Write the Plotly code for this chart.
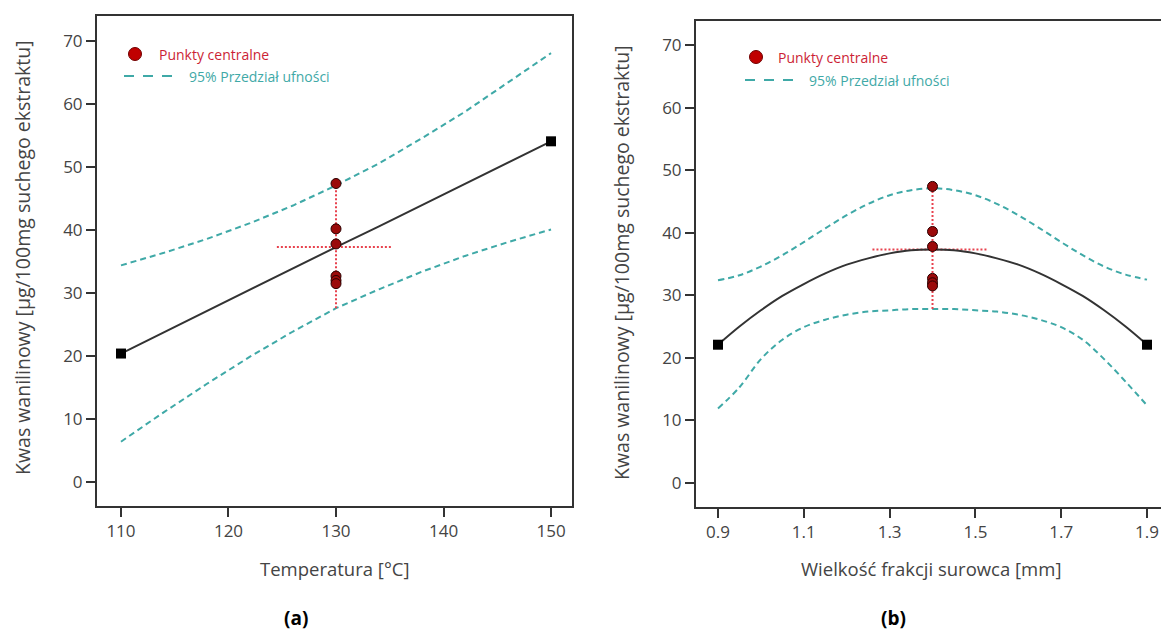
import plotly.graph_objects as go

W, H = 1161, 630

# ---------------- Panel (a): Temperatura ----------------
temp_x = [110, 114, 118, 122, 126, 130, 134, 138, 142, 146, 150]
temp_fit = [20.4, 23.8, 27.1, 30.5, 33.9, 37.3, 40.6, 44.0, 47.4, 50.7, 54.1]
temp_upper = [34.4, 36.4, 38.6, 41.1, 43.9, 47.1, 50.6, 54.6, 58.8, 63.4, 68.1]
temp_lower = [6.4, 11.1, 15.6, 19.9, 23.9, 27.6, 30.6, 33.4, 35.9, 38.1, 40.1]
temp_end_x = [110, 150]
temp_end_y = [20.4, 54.1]
temp_center = 130
temp_hbar_x = [124.5, 135.2]

# ---------------- Panel (b): Wielkość frakcji ----------------
size_x = [0.90, 0.95, 1.00, 1.05, 1.10, 1.15, 1.20, 1.25, 1.30, 1.35, 1.40,
          1.45, 1.50, 1.55, 1.60, 1.65, 1.70, 1.75, 1.80, 1.85, 1.90]
size_fit = [22.1, 25.0, 27.6, 29.9, 31.8, 33.5, 34.9, 35.9, 36.7, 37.2, 37.3,
            37.2, 36.7, 35.9, 34.9, 33.5, 31.8, 29.9, 27.6, 25.0, 22.1]
size_upper = [32.4, 33.2, 34.6, 36.4, 38.5, 40.7, 42.8, 44.6, 46.0, 46.8, 47.1,
              46.8, 46.0, 44.6, 42.8, 40.7, 38.5, 36.4, 34.6, 33.3, 32.5]
size_lower = [11.9, 15.3, 19.8, 22.9, 24.9, 26.1, 26.9, 27.4, 27.6, 27.8, 27.8,
              27.8, 27.6, 27.4, 26.9, 26.1, 24.9, 22.9, 19.8, 16.2, 12.4]
size_end_x = [0.9, 1.9]
size_end_y = [22.1, 22.1]
size_center = 1.4
size_hbar_x = [1.26, 1.53]

# Center points (same replicates in both panels)
center_y = [47.4, 40.2, 37.8, 32.7, 32.0, 31.5]
center_pred = 37.3

temp_ticks = [110, 120, 130, 140, 150]
size_ticks = [0.9, 1.1, 1.3, 1.5, 1.7, 1.9]
size_ticklabels = ["0.9", "1.1", "1.3", "1.5", "1.7", "1.9"]
y_ticks = [0, 10, 20, 30, 40, 50, 60, 70]

y_title = "Kwas wanilinowy [µg/100mg suchego ekstraktu]"
x_title_a = "Temperatura [°C]"
x_title_b = "Wielkość frakcji surowca [mm]"
legend_points = "Punkty centralne"
legend_ci = "95% Przedział ufności"

FIT = "#333333"
CI = "#3fa9a7"
RED = "#e8424e"
PT = "#9b0a0a"
FONT = "Open Sans"

fig = go.Figure()


def add_panel(xa, ya, xs, fit, up, lo, ex, ey, cx, hbar, spline):
    shape = "spline" if spline else "linear"
    # confidence band
    for yy in (up, lo):
        fig.add_trace(go.Scatter(x=xs, y=yy, mode="lines", xaxis=xa, yaxis=ya,
                                 line=dict(color=CI, width=2, dash="6px,4px", shape=shape)))
    # red dotted cross
    fig.add_trace(go.Scatter(x=[cx, cx], y=[lo[xs.index(cx)], max(center_y)], mode="lines",
                             xaxis=xa, yaxis=ya,
                             line=dict(color=RED, width=2, dash="2px,2px")))
    fig.add_trace(go.Scatter(x=hbar, y=[center_pred, center_pred], mode="lines",
                             xaxis=xa, yaxis=ya,
                             line=dict(color=RED, width=2, dash="2px,2px")))
    # fit
    fig.add_trace(go.Scatter(x=xs, y=fit, mode="lines", xaxis=xa, yaxis=ya,
                             line=dict(color=FIT, width=2, shape=shape)))
    fig.add_trace(go.Scatter(x=ex, y=ey, mode="markers", xaxis=xa, yaxis=ya,
                             marker=dict(symbol="square", size=10, color="#000000")))
    # center points
    fig.add_trace(go.Scatter(x=[cx] * len(center_y), y=center_y, mode="markers",
                             xaxis=xa, yaxis=ya,
                             marker=dict(symbol="circle", size=10, color=PT,
                                         line=dict(color="#2a0000", width=1))))


add_panel("x", "y", temp_x, temp_fit, temp_upper, temp_lower, temp_end_x, temp_end_y,
          temp_center, temp_hbar_x, False)
add_panel("x2", "y2", size_x, size_fit, size_upper, size_lower, size_end_x, size_end_y,
          size_center, size_hbar_x, True)


def px(x):
    return x / W


def py(y):
    return 1 - y / H


axis_common = dict(showgrid=False, zeroline=False, showline=True, linecolor="#333333",
                   linewidth=2, ticks="outside", ticklen=9, tickwidth=2,
                   tickcolor="#333333", tickfont=dict(family=FONT, size=17, color="#444444"))

fig.update_layout(
    width=W, height=H, margin=dict(l=0, r=0, t=0, b=0),
    paper_bgcolor="white", plot_bgcolor="white", showlegend=False,
    xaxis=dict(domain=[px(97), px(572)], range=[107.77, 151.95], anchor="y",
               tickvals=temp_ticks, mirror=True, **axis_common),
    yaxis=dict(domain=[py(506), py(16)], range=[-3.81, 74.0], anchor="x",
               tickvals=y_ticks, mirror=True, **axis_common),
    xaxis2=dict(domain=[px(696), 1.0], range=[0.8487, 1.9326], anchor="y2",
                tickvals=size_ticks, ticktext=size_ticklabels, mirror=True, **axis_common),
    yaxis2=dict(domain=[py(507), py(21)], range=[-3.84, 73.84], anchor="x2",
                tickvals=y_ticks, mirror=False, **axis_common),
)

ann = []
shapes = []
ytitle_font = dict(family=FONT, size=19.5, color="#444444")
xtitle_font = dict(family=FONT, size=18.5, color="#444444")


def label(x, y, text, font, angle=0, xanchor="center"):
    ann.append(dict(x=px(x), y=py(y), text=text, textangle=angle, showarrow=False,
                    xref="paper", yref="paper", xanchor=xanchor, yanchor="middle",
                    font=font))


# axis titles
label(22, 258, y_title, ytitle_font, angle=-90)
label(621, 262, y_title, ytitle_font, angle=-90)
label(335, 568, x_title_a, xtitle_font)
label(931, 568, x_title_b, xtitle_font)
# panel labels
label(296, 618, "<b>(a)</b>", dict(family=FONT, size=19, color="#000000"))
label(893, 618, "<b>(b)</b>", dict(family=FONT, size=19, color="#000000"))

# legends (drawn manually)
for (mx, my, t1x, dx0, dx1, dy, t2x) in [(135, 54, 157, 124, 174, 76, 187),
                                         (756, 57, 776, 745, 795, 80, 807)]:
    r = 6.5
    shapes.append(dict(type="circle", xref="paper", yref="paper",
                       x0=px(mx - r), x1=px(mx + r), y0=py(my + r), y1=py(my - r),
                       fillcolor="#c00000", line=dict(color="#700000", width=1)))
    shapes.append(dict(type="line", xref="paper", yref="paper",
                       x0=px(dx0), x1=px(dx1), y0=py(dy), y1=py(dy),
                       line=dict(color=CI, width=2, dash="10px,9px")))
    label(t1x, my, legend_points, dict(family=FONT, size=14, color="#cc1f36"), xanchor="left")
    label(t2x, dy, legend_ci, dict(family=FONT, size=14, color=CI), xanchor="left")

fig.update_layout(annotations=ann, shapes=shapes)

fig.write_html("out.html")
